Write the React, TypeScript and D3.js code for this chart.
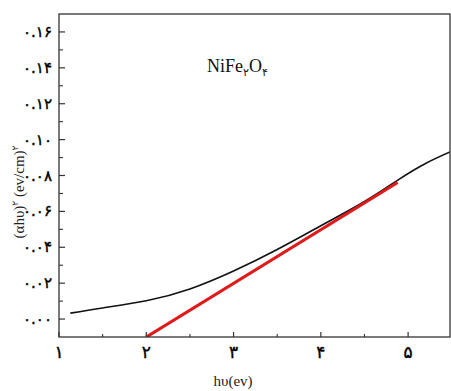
import React from "react";
import * as d3 from "d3";

const curveX = [1.13, 1.5, 2.0, 2.5, 3.0, 3.5, 4.0, 4.5, 4.9, 5.2, 5.48];
const curveY = [0.0033, 0.0062, 0.0102, 0.0168, 0.0268, 0.0388, 0.052, 0.0655, 0.078, 0.0867, 0.0931];
const fitX = [2.0, 4.88];
const fitY = [-0.01, 0.0761];
const xTicks = [1, 2, 3, 4, 5];
const xTickLabels = ["۱", "۲", "۳", "۴", "۵"];
const yTicks = [0, 0.02, 0.04, 0.06, 0.08, 0.1, 0.12, 0.14, 0.16];
const yTickLabels = ["۰.۰۰", "۰.۰۲", "۰.۰۴", "۰.۰۶", "۰.۰۸", "۰.۱۰", "۰.۱۲", "۰.۱۴", "۰.۱۶"];
const xMinor = [1.5, 2.5, 3.5, 4.5];
const yMinor = [0.01, 0.03, 0.05, 0.07, 0.09, 0.11, 0.13, 0.15];

export default function App() {
  const W = 451, H = 391;
  const L = 59, R = 450, T = 14, B = 337;
  const x = d3.scaleLinear().domain([1, 5.48]).range([L, R]);
  const y = d3.scaleLinear().domain([-0.01, 0.17]).range([B, T]);
  const line = d3.line<number>().x((_, i) => x(curveX[i])).y((d) => y(d)).curve(d3.curveNatural);
  const fit = d3.line<number>().x((_, i) => x(fitX[i])).y((d) => y(d));
  const font = "'Liberation Serif', 'DejaVu Sans', serif";
  const digitFont = "'DejaVu Sans', sans-serif";
  return (
    <svg width={W} height={H} style={{ position: "absolute", left: 0, top: 0, background: "#fff" }}>
      <defs>
        <clipPath id="clip">
          <rect x={L} y={T} width={R - L} height={B - T} />
        </clipPath>
      </defs>
      <rect x={0} y={0} width={W} height={H} fill="#fff" />
      <g clipPath="url(#clip)">
        <path d={line(curveY) || ""} fill="none" stroke="#111" strokeWidth={1.6} />
        <path d={fit(fitY) || ""} fill="none" stroke="#e0191b" strokeWidth={3.2} />
      </g>
      <rect x={L} y={T} width={R - L} height={B - T} fill="none" stroke="#333" strokeWidth={1.3} />
      {yTicks.map((t, i) => (
        <g key={"y" + i}>
          <line x1={L} x2={L + 6} y1={y(t)} y2={y(t)} stroke="#333" strokeWidth={1.2} />
          <text x={52} y={y(t) + 5} textAnchor="end" fontFamily={digitFont} fontSize={15} fill="#000" stroke="#000" strokeWidth={0.4}>
            {yTickLabels[i]}
          </text>
        </g>
      ))}
      {yMinor.map((t, i) => (
        <line key={"ym" + i} x1={L} x2={L + 4} y1={y(t)} y2={y(t)} stroke="#333" strokeWidth={1.1} />
      ))}
      {xTicks.map((t, i) => (
        <g key={"x" + i}>
          <line x1={x(t)} x2={x(t)} y1={B} y2={B - 5} stroke="#333" strokeWidth={1.2} />
          <text x={x(t)} y={B + 21} textAnchor="middle" fontFamily={digitFont} fontSize={17} fill="#000" stroke="#000" strokeWidth={0.4}>
            {xTickLabels[i]}
          </text>
        </g>
      ))}
      {xMinor.map((t, i) => (
        <line key={"xm" + i} x1={x(t)} x2={x(t)} y1={B} y2={B - 3} stroke="#333" strokeWidth={1.1} />
      ))}
      <text x={233} y={386} textAnchor="middle" fontFamily={font} fontSize={15} fill="#222">
        hυ(ev)
      </text>
      <text
        transform="translate(24,192) rotate(-90)"
        textAnchor="middle"
        fontFamily={font}
        fontSize={15}
        fill="#222"
      >
        (αhυ)<tspan dy={-6} fontSize={9}>۲</tspan>
        <tspan dy={6}> (ev/cm)</tspan>
        <tspan dy={-6} fontSize={9}>۲</tspan>
      </text>
      <text x={207} y={72} fontFamily={font} fontSize={18} fill="#111">
        NiFe<tspan dy={4} fontSize={11}>۲</tspan>
        <tspan dy={-4}>O</tspan>
        <tspan dy={4} fontSize={11}>۴</tspan>
      </text>
    </svg>
  );
}
